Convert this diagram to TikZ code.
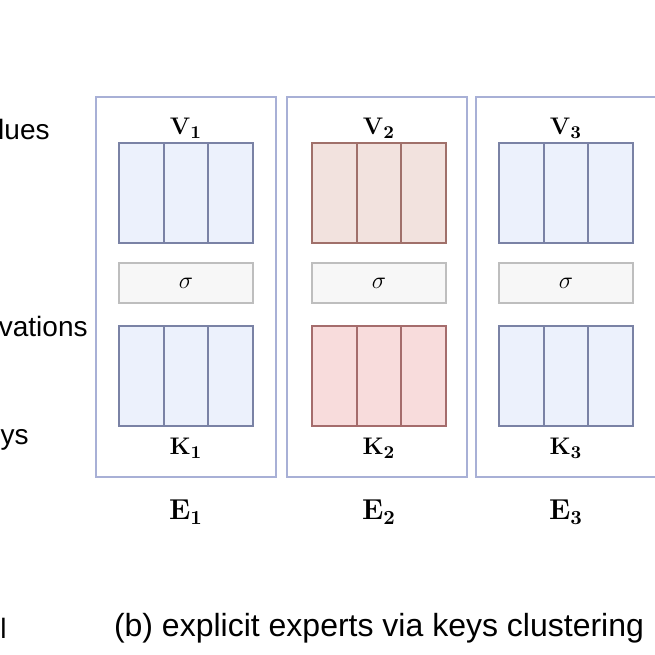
\documentclass[tikz,border=0pt]{standalone}
\usepackage[no-math]{fontspec}
\setmainfont{Liberation Sans}
\usepackage{amsmath}
\definecolor{frame1}{RGB}{168, 176, 214}
\definecolor{blueF}{RGB}{236, 241, 252}
\definecolor{blueD}{RGB}{122, 130, 165}
\definecolor{redVF}{RGB}{242, 226, 222}
\definecolor{redVD}{RGB}{160, 112, 106}
\definecolor{redKF}{RGB}{248, 220, 220}
\definecolor{redKD}{RGB}{165, 108, 108}
\definecolor{sigF}{RGB}{247, 247, 247}
\definecolor{sigD}{RGB}{190, 190, 190}

\begin{document}
\begin{tikzpicture}[x=0.5pt, y=-0.5pt,
  every node/.style={font=\fontsize{13}{15}\selectfont},
  side/.style={anchor=east, inner sep=0pt, font=\fontsize{14}{16}\selectfont},
  expert/.style={draw=frame1, line width=0.7pt},
  cell/.style={rectangle, line width=1pt, minimum width=22.33pt, minimum height=50pt, inner sep=0pt},
  sigbox/.style={rectangle, draw=sigD, fill=sigF, line width=0.8pt, minimum width=67pt, minimum height=20pt, inner sep=0pt}]
  \useasboundingbox (0,0) rectangle (655,655);
  % row labels, cut at the left edge
  \node[side] (lv) at (50,129) {lues};
  \node[side] (la) at (88,326) {vations};
  \node[side] (lk) at (29,440) {ys};
  \node[side, anchor=west] (lc) at (0,628) {l};
  % experts
  \foreach \i/\bx/\cx/\vf/\vd/\kf/\kd in {1/186/186/blueF/blueD/blueF/blueD, 2/377/379/redVF/redVD/redKF/redKD, 3/566/566/blueF/blueD/blueF/blueD} {
    \draw[expert] (\bx-90,97) rectangle (\bx+90,477);
    \foreach \c in {0,1,2} {
      \node[cell, fill=\vf, draw=\vd] (v\i\c) at ({\cx-44.67+\c*44.67},193) {};
      \node[cell, fill=\kf, draw=\kd] (k\i\c) at ({\cx-44.67+\c*44.67},376) {};
    }
    \node[sigbox] (s\i) at (\cx,283) {$\sigma$};
    \node (vl\i) at (\cx,128) {$\mathbf{V_{\i}}$};
    \node (kl\i) at (\cx,448) {$\mathbf{K_{\i}}$};
    \node[font=\fontsize{14}{16}\selectfont] (el\i) at (\cx,512) {$\mathbf{E_{\i}}$};
  }
  \node[font=\fontsize{16}{18}\selectfont] (cap) at (379,628) {(b) explicit experts via keys clustering};
\end{tikzpicture}
\end{document}
